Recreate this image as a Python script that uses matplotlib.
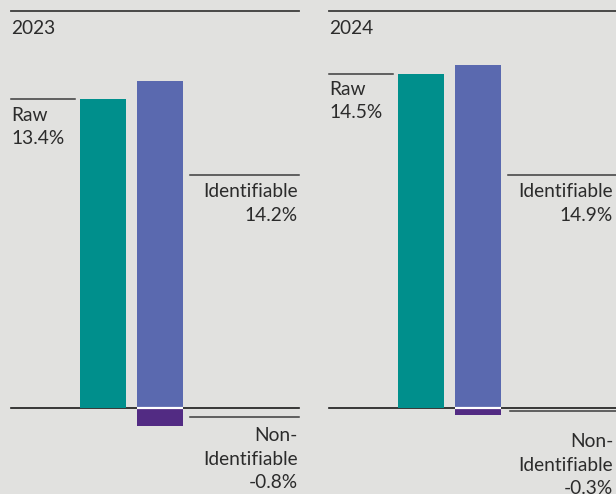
import matplotlib
matplotlib.use("Agg")
import matplotlib.pyplot as plt
import matplotlib.transforms as mtransforms

years = ['2023', '2024']
raw = [13.4, 14.5]
identifiable = [14.2, 14.9]
non_identifiable = [-0.8, -0.3]

bg = '#e1e1df'
teal = '#008f8c'
blue = '#5a69af'
purple = '#522b83'
ink = '#2b2b2b'
rule = '#3c3c3c'

W, H = 616, 494
scale = 23.04      # px per percentage point
zero_px = 408      # zero line, px from top
panel_left = [11, 329]
panel_w = 288

plt.rcParams['font.family'] = ['Lato', 'DejaVu Sans']

fig = plt.figure(figsize=(W / 100, H / 100), dpi=100)
fig.patch.set_facecolor(bg)


def yfrac(p):
    return 1 - p / H


def put_lines(ax, left, x_px, first_base, text, ha):
    for k, line in enumerate(text.split('\n')):
        ax.text((x_px - left) / panel_w, yfrac(first_base + k * 23.5), line,
                transform=ax.transAxes, ha=ha, va='baseline',
                fontsize=13.8, color=ink, clip_on=False)


# per panel label placement (px from top)
ident_line_px = [175, 175]
ident_base = [197, 197]
non_base = [441, 447]
text_right = [298, 613]
raw_base = [121, 95]

for i, year in enumerate(years):
    left = panel_left[i]
    ax = fig.add_axes([left / W, 0, panel_w / W, 1])
    ax.set_facecolor('none')
    ax.set_ylim(-(H - zero_px) / scale, zero_px / scale)
    ax.set_xlim(-92 / 57, (panel_w - 92) / 57)
    ax.axis('off')
    blend = mtransforms.blended_transform_factory(ax.transAxes, ax.transData)

    # top rule and zero line
    ax.plot([0, 1], [yfrac(11)] * 2, transform=ax.transAxes, color=rule, lw=1.3,
            clip_on=False)
    ax.plot([0, 1], [0, 0], transform=blend, color='#1a1a1a', lw=1.2, zorder=1,
            clip_on=False)

    ax.bar(0, raw[i], width=46 / 57, color=teal, zorder=3)
    ax.bar(1, identifiable[i], width=46 / 57, color=blue, zorder=3)
    ax.bar(1, non_identifiable[i], width=46 / 57, color=purple, zorder=3)
    ax.hlines(0, 1 - 23 / 57, 1 + 23 / 57, color='white', lw=1.6, zorder=4)

    ax.text(0, yfrac(34), year, transform=ax.transAxes, ha='left', va='baseline',
            fontsize=13.8, color=ink)

    # Raw label
    ax.plot([0, 64 / panel_w], [raw[i]] * 2, transform=blend, color=rule, lw=1.1,
            clip_on=False)
    put_lines(ax, left, left, raw_base[i], 'Raw\n%.1f%%' % raw[i], 'left')

    # Identifiable label
    x0 = 179 / panel_w
    ax.plot([x0, 1], [yfrac(ident_line_px[i])] * 2, transform=ax.transAxes,
            color=rule, lw=1.1, clip_on=False)
    put_lines(ax, left, text_right[i], ident_base[i],
              'Identifiable\n%.1f%%' % identifiable[i], 'right')

    # Non-identifiable label
    ax.plot([x0 + (2 / panel_w if i else 0), 1], [non_identifiable[i] / 2] * 2,
            transform=blend, color=rule, lw=1.1, clip_on=False)
    put_lines(ax, left, text_right[i], non_base[i],
              'Non-\nIdentifiable\n%.1f%%' % non_identifiable[i], 'right')

fig.savefig('out.png', dpi=100, facecolor=bg)
